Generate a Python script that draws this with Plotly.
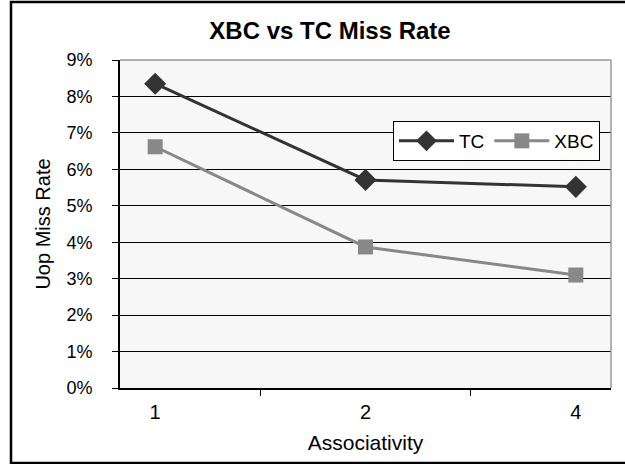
import plotly.graph_objects as go

categories = ["1", "2", "4"]
tc_values = [8.35, 5.71, 5.52]
xbc_values = [6.62, 3.87, 3.10]
y_ticks = [0, 1, 2, 3, 4, 5, 6, 7, 8, 9]
y_tick_text = [f"{v}%" for v in y_ticks]

W, H = 625, 464
L, R, T, B = 120, 14, 60, 76
pw, ph = W - L - R, H - T - B

def px_x(x):
    return (x - L) / pw

def px_y(y):
    return (H - B - y) / ph

font = "Liberation Sans, Arial, sans-serif"

fig = go.Figure()
fig.add_trace(go.Scatter(
    x=categories, y=tc_values, name="TC", mode="lines+markers",
    line=dict(color="#333333", width=3),
    marker=dict(symbol="diamond", size=17, color="#333333"),
))
fig.add_trace(go.Scatter(
    x=categories, y=xbc_values, name="XBC", mode="lines+markers",
    line=dict(color="#888888", width=3),
    marker=dict(symbol="square", size=15, color="#888888"),
))

fig.update_layout(
    width=W, height=H,
    margin=dict(l=L, r=R, t=T, b=B),
    paper_bgcolor="white",
    plot_bgcolor="#f7f7f7",
    font=dict(family=font, color="black"),
    title=dict(text="<b>XBC vs TC Miss Rate</b>", x=px_x(330), xref="paper",
               xanchor="center", y=1 - 31 / H, yanchor="middle",
               font=dict(size=24, family=font, color="black")),
    legend=dict(orientation="h", x=px_x(393), y=px_y(121), xanchor="left", yanchor="top",
                bgcolor="white", bordercolor="black", borderwidth=1,
                font=dict(size=19, family=font), itemwidth=55,
                tracegroupgap=0),
    showlegend=True,
    xaxis=dict(type="category", tickson="boundaries", ticks="outside", ticklen=6,
               tickcolor="black", tickwidth=1, showline=True, linecolor="black", linewidth=2,
               showgrid=False, tickfont=dict(size=20, family=font), ticklabelstandoff=5,
               title=dict(text="Associativity", font=dict(size=21, family=font), standoff=13)),
    yaxis=dict(range=[0, 9], tickvals=y_ticks, ticktext=y_tick_text, ticks="outside", ticklen=6,
               tickcolor="black", showline=True, linecolor="black", linewidth=2,
               showgrid=True, gridcolor="black", gridwidth=1, zeroline=False,
               tickfont=dict(size=18, family=font), ticklabelstandoff=16,
               title=dict(text="Uop Miss Rate", font=dict(size=20, family=font), standoff=10)),
    shapes=[
        dict(type="line", xref="paper", yref="paper", x0=0, x1=1, y0=1, y1=1,
             line=dict(color="#999999", width=1.5), layer="above"),
        dict(type="line", xref="paper", yref="paper", x0=1, x1=1, y0=0, y1=1,
             line=dict(color="#999999", width=1.5), layer="above"),
        dict(type="rect", xref="paper", yref="paper", x0=px_x(11), x1=px_x(628),
             y0=px_y(463), y1=px_y(2), line=dict(color="black", width=2.5),
             fillcolor="rgba(0,0,0,0)", layer="above"),
    ],
)

fig.write_html("out.html")
